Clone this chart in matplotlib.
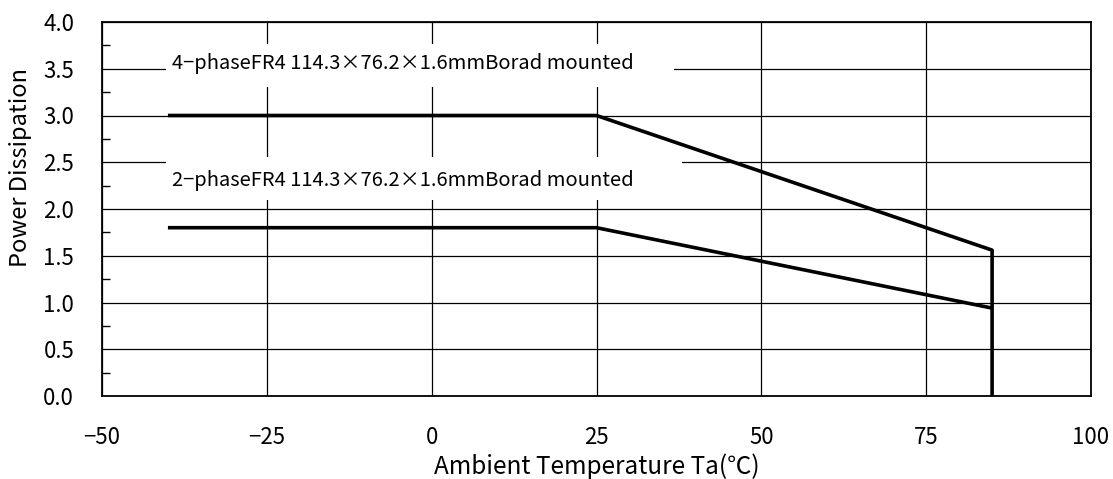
import matplotlib
matplotlib.use("Agg")
import matplotlib.pyplot as plt
from matplotlib.ticker import MultipleLocator
from matplotlib.patches import Rectangle

plt.rcParams['font.family'] = ['Noto Sans CJK JP', 'DejaVu Sans']

# Data
temp_4phase = [-40, 25, 85, 85]
pd_4phase = [3.0, 3.0, 1.56, 0.0]
temp_2phase = [-40, 25, 85]
pd_2phase = [1.8, 1.8, 0.94]
label_4phase = "4\u2212phaseFR4 114.3\u00d776.2\u00d71.6mmBorad mounted"
label_2phase = "2\u2212phaseFR4 114.3\u00d776.2\u00d71.6mmBorad mounted"
xticks = [-50, -25, 0, 25, 50, 75, 100]
yticks = [0.0, 0.5, 1.0, 1.5, 2.0, 2.5, 3.0, 3.5, 4.0]

fig = plt.figure(figsize=(11.13, 4.79), dpi=100)
ax = fig.add_axes([102/1113, 1 - 396/479, 989/1113, 374/479])

ax.set_xlim(-50, 100)
ax.set_ylim(0, 4)
ax.set_xticks(xticks)
ax.set_xticklabels([str(t).replace('-', '\u2212') for t in xticks])
ax.set_yticks(yticks)
ax.set_yticklabels([f"{t:.1f}" for t in yticks])
ax.yaxis.set_minor_locator(MultipleLocator(0.25))
ax.tick_params(axis='both', which='major', length=0, labelsize=16)
ax.tick_params(axis='x', which='major', pad=21.5)
ax.tick_params(axis='y', which='major', pad=20)
ax.tick_params(axis='y', which='minor', direction='in', length=6, width=1, color='black')
ax.tick_params(axis='y', which='minor', left=True, right=False)
ax.tick_params(axis='x', which='minor', bottom=False)

ax.grid(True, which='major', color='black', linewidth=0.9, zorder=1)
ax.set_axisbelow(True)
for s in ax.spines.values():
    s.set_linewidth(1.3)
    s.set_color('black')

ax.plot(temp_4phase, pd_4phase, color='black', linewidth=2.6, zorder=4, solid_capstyle='butt')
ax.plot(temp_2phase, pd_2phase, color='black', linewidth=2.6, zorder=4, solid_capstyle='butt')

# White label boxes hiding grid lines
ax.add_patch(Rectangle((-40.3, 3.305), 77.1, 0.46, facecolor='white', edgecolor='none', zorder=2))
ax.add_patch(Rectangle((-40.3, 2.096), 78.3, 0.46, facecolor='white', edgecolor='none', zorder=2))
ax.text(-39.4, 3.56, label_4phase, fontsize=14.5, va='center', ha='left', zorder=3)
ax.text(-39.4, 2.31, label_2phase, fontsize=14.5, va='center', ha='left', zorder=3)

ylab = ax.set_ylabel("Power Dissipation", fontsize=17)
ylab.set_va('center')
ax.yaxis.set_label_coords(-0.082, 0.612)
xlab = ax.set_xlabel("Ambient Temperature Ta(\u2103)", fontsize=17.5)
xlab.set_va('center')
ax.xaxis.set_label_coords(0.5, -0.19)

fig.savefig("out.png", dpi=100)
